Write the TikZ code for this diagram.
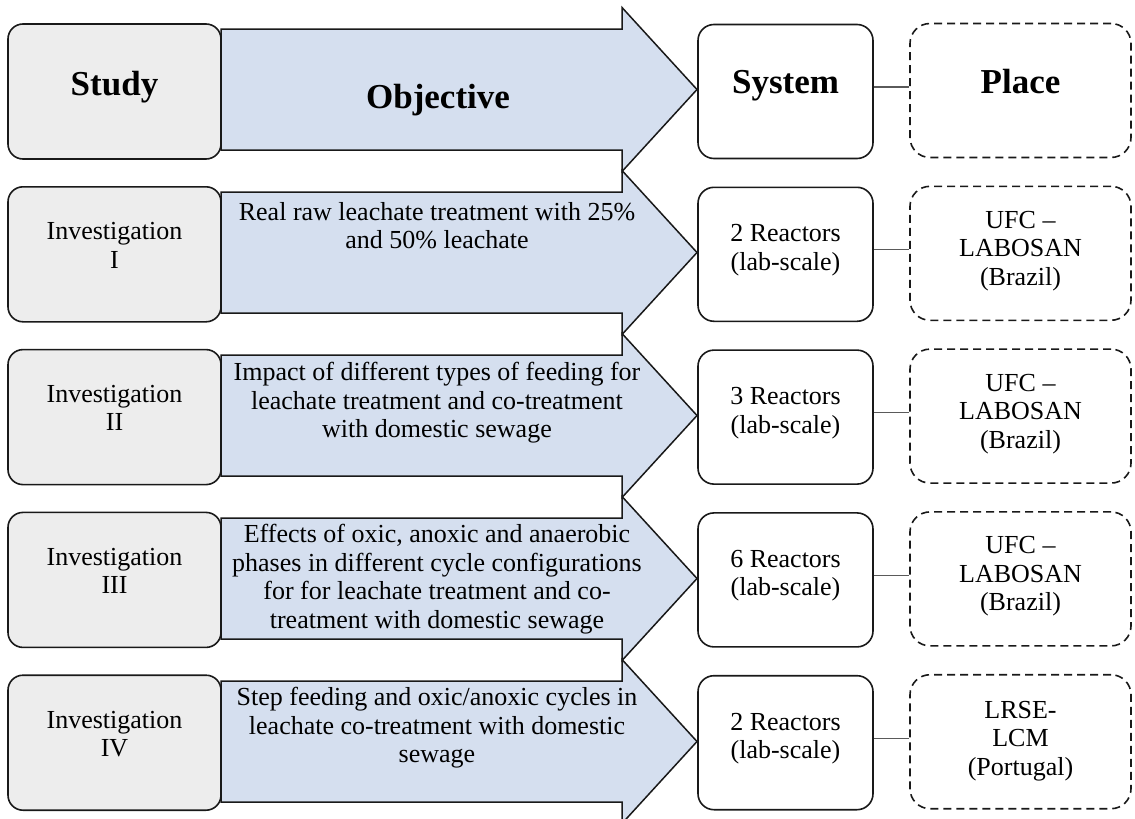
\documentclass[tikz,border=0pt]{standalone}
\usepackage{fontspec}
\setmainfont{Liberation Serif}
\definecolor{studyfill}{RGB}{237,237,237}
\definecolor{arrowfill}{RGB}{213,223,239}
\definecolor{edgecol}{RGB}{25,25,25}
\definecolor{linkcol}{RGB}{90,90,90}
\tikzset{
  studybox/.style={draw=edgecol, line width=1.6pt, fill=studyfill, rounded corners=15pt,
    minimum width=213pt, minimum height=135pt, inner sep=0pt},
  sysbox/.style={draw=edgecol, line width=1.6pt, fill=white, rounded corners=16pt,
    minimum width=175pt, minimum height=134pt, inner sep=0pt},
  placebox/.style={draw=edgecol, line width=1.6pt, dash pattern=on 8pt off 5pt,
    rounded corners=20pt, minimum width=221pt, minimum height=134pt, inner sep=0pt},
  arrowshape/.style={draw=edgecol, line width=1.5pt, fill=arrowfill, line join=miter},
  bodytext/.style={font=\fontsize{26}{28.5}\selectfont, align=center, inner sep=0pt},
  headtext/.style={font=\fontsize{35}{40}\selectfont\bfseries, inner sep=0pt, anchor=base},
  link/.style={draw=linkcol, line width=1.1pt}
}
\newcommand\myarrow[1]{%
  \draw[arrowshape] (221,#1-60.5) -- (622,#1-60.5) -- (622,#1-82) -- (697,#1)
    -- (622,#1+82) -- (622,#1+60.5) -- (221,#1+60.5) -- cycle;}
\begin{document}
\begin{tikzpicture}[x=1pt,y=-1pt]
\useasboundingbox (0,0) rectangle (1135,819);
\clip (0,0) rectangle (1135,819);

% ---- Row 0 (header) ----
\node[studybox] (st0) at (114.5,91.5) {};
\myarrow{89.5}
\node[sysbox] (sy0) at (785.5,91.5) {};
\node[placebox] (pl0) at (1020.5,90.5) {};
\node[headtext] (st0t) at (114.5,95) {Study};
\node[headtext] (ob0t) at (438,108) {Objective};
\node[headtext] (sy0t) at (785.5,93) {System};
\node[headtext] (pl0t) at (1020.5,93) {Place};
\draw[link] ([yshift=4.5pt]sy0.east) -- ([yshift=4.5pt]sy0.east -| pl0.west);

% ---- Row 1 ----
\node[studybox] (st1) at (114.5,254.3) {};
\myarrow{252.5}
\node[sysbox] (sy1) at (785.5,254.3) {};
\node[placebox] (pl1) at (1020.5,253.3) {};
\node[bodytext, anchor=north] (st1t) at (114.5,222.2) {Investigation\\I};
\node[bodytext, anchor=north] (ob1t) at (437,202) {Real raw leachate treatment with 25\%\\and 50\% leachate};
\node[bodytext, anchor=north] (sy1t) at (785.5,224.4) {2 Reactors\\(lab-scale)};
\node[bodytext] (pl1t) at (1020.5,251) {UFC --\\LABOSAN\\(Brazil)};
\draw[link] ([yshift=4.5pt]sy1.east) -- ([yshift=4.5pt]sy1.east -| pl1.west);

% ---- Row 2 ----
\node[studybox] (st2) at (114.5,417.1) {};
\myarrow{415.5}
\node[sysbox] (sy2) at (785.5,417.1) {};
\node[placebox] (pl2) at (1020.5,416.1) {};
\node[bodytext, anchor=north] (st2t) at (114.5,385) {Investigation\\II};
\node[bodytext, anchor=north] (ob2t) at (437,362) {Impact of different types of feeding for\\leachate treatment and co-treatment\\with domestic sewage};
\node[bodytext, anchor=north] (sy2t) at (785.5,387.2) {3 Reactors\\(lab-scale)};
\node[bodytext] (pl2t) at (1020.5,413.8) {UFC --\\LABOSAN\\(Brazil)};
\draw[link] ([yshift=4.5pt]sy2.east) -- ([yshift=4.5pt]sy2.east -| pl2.west);

% ---- Row 3 ----
\node[studybox] (st3) at (114.5,579.9) {};
\myarrow{578.5}
\node[sysbox] (sy3) at (785.5,579.9) {};
\node[placebox] (pl3) at (1020.5,578.9) {};
\node[bodytext, anchor=north] (st3t) at (114.5,547.8) {Investigation\\III};
\node[bodytext, anchor=north] (ob3t) at (437,524) {Effects of oxic, anoxic and anaerobic\\phases in different cycle configurations\\for for leachate treatment and co-\\treatment with domestic sewage};
\node[bodytext, anchor=north] (sy3t) at (785.5,550) {6 Reactors\\(lab-scale)};
\node[bodytext] (pl3t) at (1020.5,576.6) {UFC --\\LABOSAN\\(Brazil)};
\draw[link] ([yshift=4.5pt]sy3.east) -- ([yshift=4.5pt]sy3.east -| pl3.west);

% ---- Row 4 ----
\node[studybox] (st4) at (114.5,742.7) {};
\myarrow{741.5}
\node[sysbox] (sy4) at (785.5,742.7) {};
\node[placebox] (pl4) at (1020.5,741.7) {};
\node[bodytext, anchor=north] (st4t) at (114.5,710.6) {Investigation\\IV};
\node[bodytext, anchor=north] (ob4t) at (437,687) {Step feeding and oxic/anoxic cycles in\\leachate co-treatment with domestic\\sewage};
\node[bodytext, anchor=north] (sy4t) at (785.5,712.8) {2 Reactors\\(lab-scale)};
\node[bodytext] (pl4t) at (1020.5,741) {LRSE-\\LCM\\(Portugal)};
\draw[link] ([yshift=4.5pt]sy4.east) -- ([yshift=4.5pt]sy4.east -| pl4.west);
\end{tikzpicture}
\end{document}
